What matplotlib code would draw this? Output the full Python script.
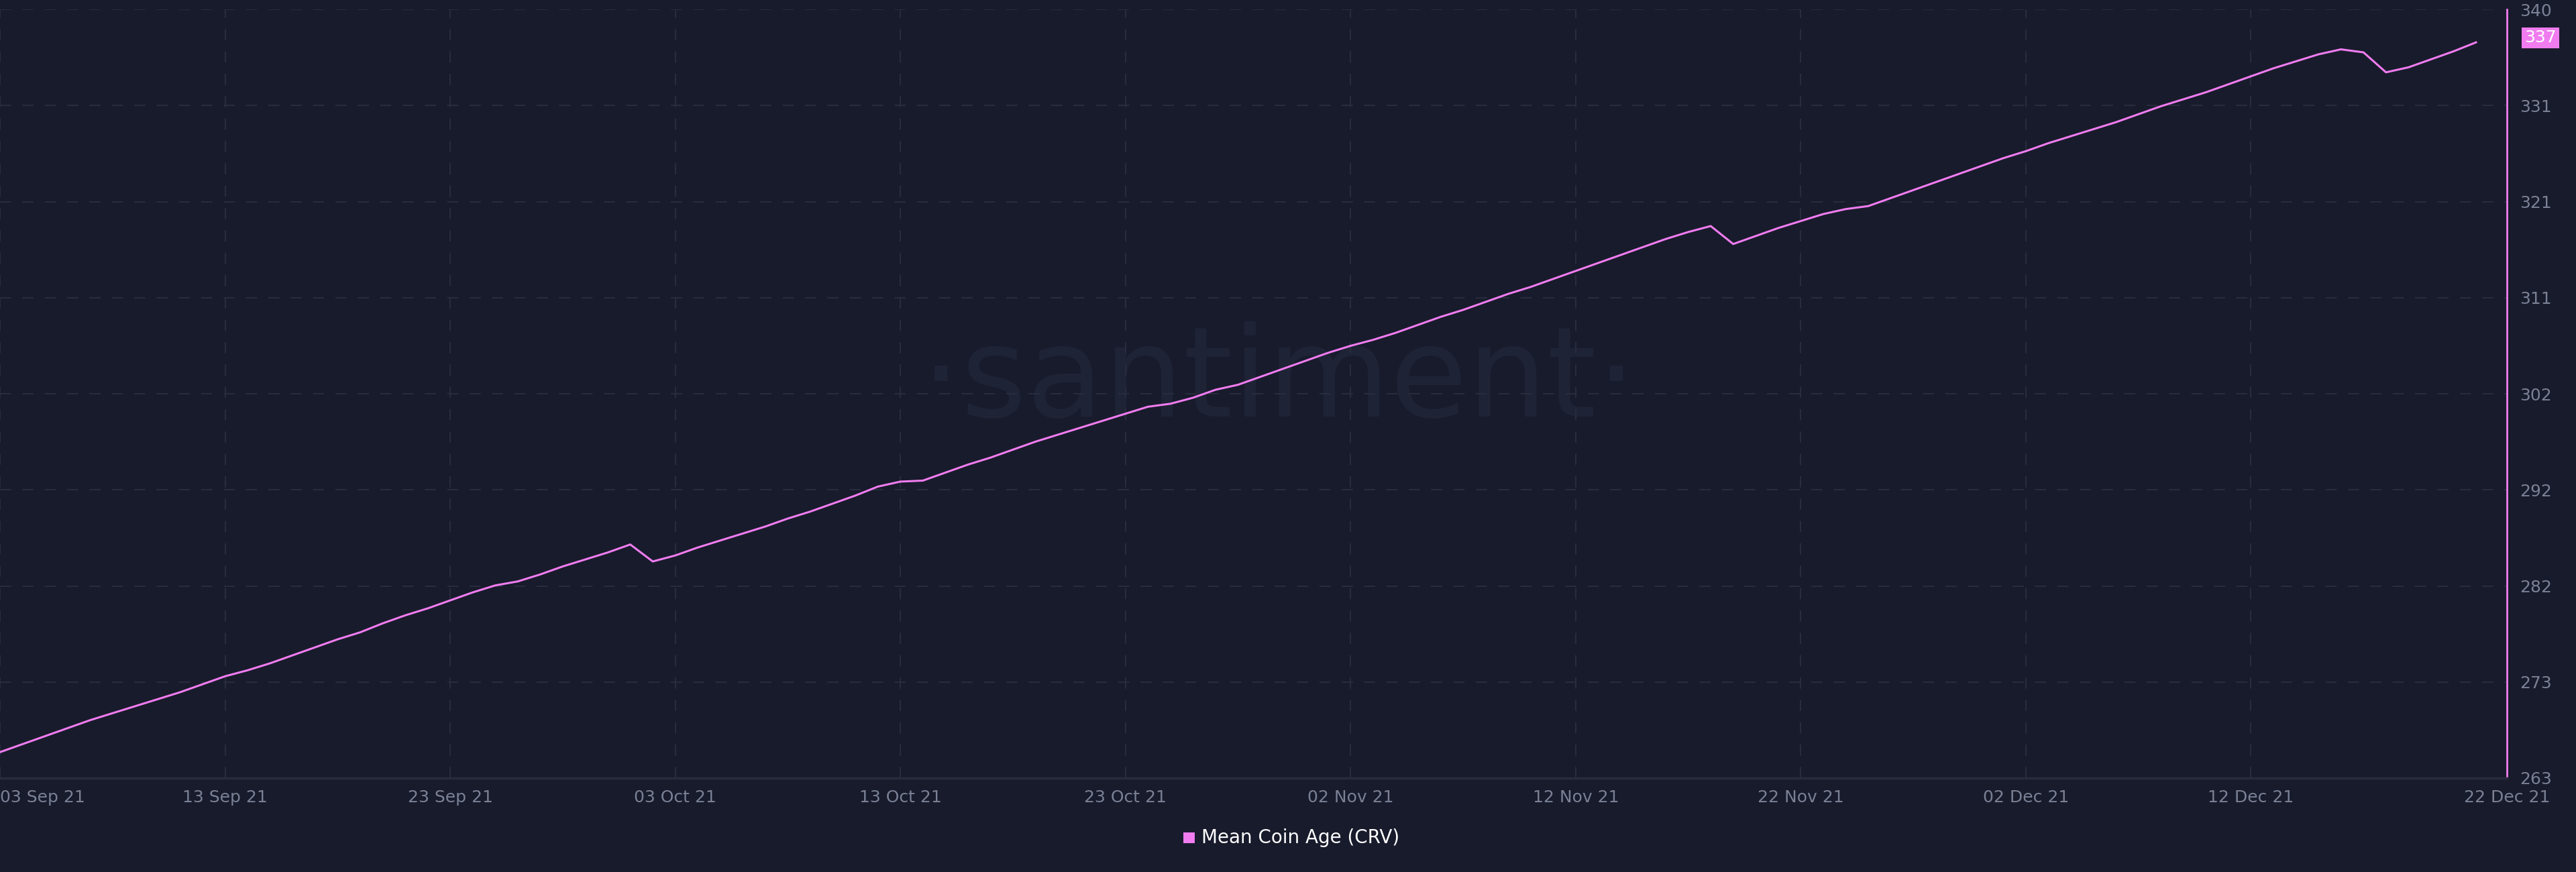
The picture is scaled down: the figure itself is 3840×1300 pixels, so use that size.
import numpy as np
import pandas as pd
import matplotlib
matplotlib.use('Agg')
import matplotlib.pyplot as plt

# daily mean coin age (CRV), 03 Sep 21 .. 22 Dec 21
mean_coin_age = [
    265.6, 266.4, 267.2, 268.0, 268.8, 269.5, 270.2, 270.9, 271.6, 272.4,
    273.2, 273.8, 274.5, 275.3, 276.1, 276.9, 277.6, 278.5, 279.3, 280.0,
    280.8, 281.6, 282.3, 282.7, 283.4, 284.2, 284.9, 285.6,
    286.4, 284.7, 285.3, 286.1, 286.8, 287.5, 288.2, 289.0, 289.7, 290.5,
    291.3, 292.2, 292.7, 292.8, 293.6, 294.4, 295.1, 295.9, 296.7, 297.4,
    298.1, 298.8, 299.5, 300.2, 300.5, 301.1, 301.9, 302.4, 303.2, 304.0, 304.8,
    305.6, 306.3, 306.9, 307.6, 308.4, 309.2, 309.9, 310.7, 311.5, 312.2,
    313.0, 313.8, 314.6, 315.4, 316.2, 317.0, 317.7, 318.3, 316.5, 317.3,
    318.1, 318.8, 319.5, 320.0, 320.3, 321.1, 321.9, 322.7, 323.5, 324.3,
    325.1, 325.8, 326.6, 327.3, 328.0, 328.7, 329.5, 330.3, 331.0, 331.7,
    332.5, 333.3, 334.1, 334.8, 335.5, 336.0, 335.7, 333.7, 334.2,
    335.0, 335.8, 336.7,
]
dates = pd.date_range('2021-09-03', periods=len(mean_coin_age), freq='D')
y_min, y_max = 263, 340
y_labels = ['263', '273', '282', '292', '302', '311', '321', '331', '340']
last_label = '337'

bg = '#181b2b'
grid_c = '#282c3d'
text_c = '#7a8196'
line_c = '#f07cf0'
tick_font = ['Liberation Sans Narrow', 'DejaVu Sans']

fig = plt.figure(figsize=(38.4, 13), dpi=100, facecolor=bg)
ax = fig.add_axes([0.0, 0.1077, 0.9732, 0.8815], facecolor=bg)

ax.plot(dates, mean_coin_age, color=line_c, lw=2.2)

x0 = pd.Timestamp('2021-09-03')
x1 = pd.Timestamp('2021-12-23 09:00')
ax.set_xlim(x0, x1)
ax.set_ylim(y_min, y_max)

ax.set_yticks(np.linspace(y_min, y_max, len(y_labels)))
ax.set_yticklabels(y_labels, family=tick_font)
ax.yaxis.tick_right()

xt = list(pd.date_range('2021-09-03', '2021-12-12', freq='10D')) + [x1]
ax.set_xticks(xt)
xl = [d.strftime('%d %b %y') for d in xt[:-1]] + ['22 Dec 21']
ax.set_xticklabels(xl, family=tick_font)
ax.get_xticklabels()[0].set_ha('left')
ax.get_xticklabels()[0].set_x(0)

ax.tick_params(axis='both', length=0, colors=text_c, labelsize=18)
ax.tick_params(axis='y', pad=14)
ax.tick_params(axis='x', pad=12)

ax.grid(True, color=grid_c, linestyle=(0, (8, 8)), lw=1.5)
for s in ['top', 'left']:
    ax.spines[s].set_visible(False)
ax.spines['bottom'].set_color(grid_c)
ax.spines['bottom'].set_linewidth(2.5)
ax.spines['right'].set_color(line_c)
ax.spines['right'].set_linewidth(2)

# last value marker
ax.text(1.007, (mean_coin_age[-1] - y_min) / (y_max - y_min) + 0.006, last_label,
        transform=ax.transAxes, ha='left', va='center', color='white', fontsize=18,
        family=tick_font,
        bbox=dict(boxstyle='square,pad=0.15', fc=line_c, ec='none'), clip_on=False)

# watermark
ax.text(0.51, 0.515, '·santiment·', transform=ax.transAxes, ha='center', va='center',
        fontsize=135, color='#1f2336', zorder=0)

# legend
fig.patches.append(plt.Rectangle((0.4595, 0.033), 0.0043, 0.0127, transform=fig.transFigure,
                                 fc=line_c, ec='none'))
fig.text(0.4665, 0.039, 'Mean Coin Age (CRV)', ha='left', va='center', color='white',
         fontsize=20)

fig.savefig('out.png', dpi=100, facecolor=bg)
